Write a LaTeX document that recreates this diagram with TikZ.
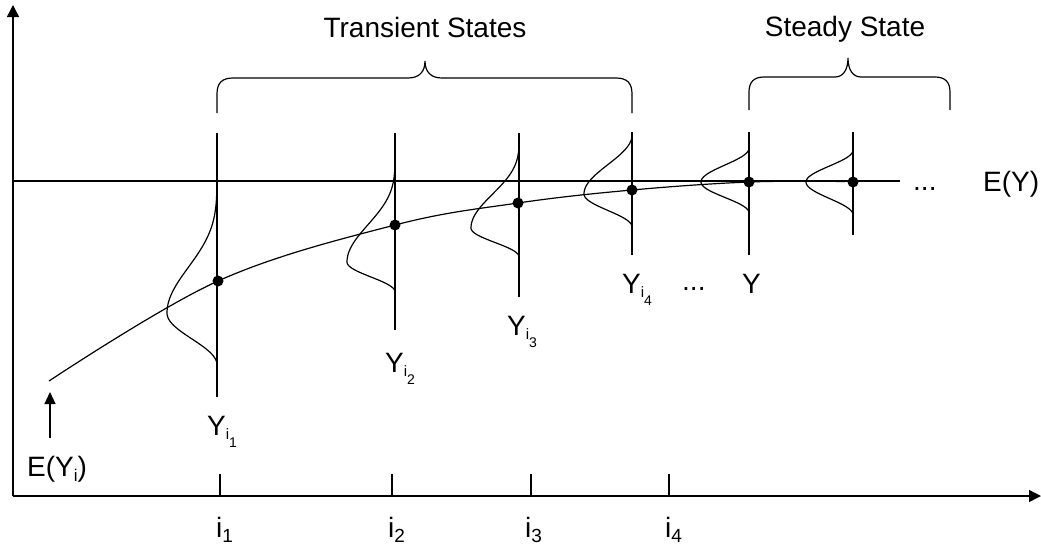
\documentclass[tikz,border=0pt]{standalone}
\usepackage{fontspec}
\setmainfont{Liberation Sans}
\usetikzlibrary{arrows.meta}
% bell: #1 x of line, #2 top, #3 y of widest point, #4 bottom, #5 width, #6 exponent of upper tail
\newcommand{\bellcurve}[6]{%
  \draw[curve] plot[domain=-0.999:0, samples=70, variable=\t]
     ({#1-#5*(max((1+cos(180*\t))/2,0.00001))^#6}, {#3+\t*(#3-#2)})
   -- plot[domain=0:0.999, samples=40, variable=\t]
     ({#1-#5*((1+cos(180*\t))/2)}, {#3+\t*(#4-#3)});}
\newcommand{\ysub}[1]{Y\raisebox{-4pt}{\fontsize{15}{15}\selectfont i\raisebox{-8pt}{\fontsize{14}{14}\selectfont #1}}}
\newcommand{\isub}[1]{i\raisebox{-5pt}{\fontsize{19}{19}\selectfont #1}}
\begin{document}
\begin{tikzpicture}[x=1pt,y=-1pt,
  axis/.style={line width=1.4pt,-{Triangle[width=12pt,length=12pt]}},
  curve/.style={line width=1.2pt},
  lbl/.style={font=\fontsize{28}{30}\selectfont, inner sep=0pt, anchor=base west},
  ttl/.style={font=\fontsize{28}{30}\selectfont, inner sep=0pt, anchor=base},
  dot/.style={circle, fill=black, inner sep=0pt, minimum size=11pt}]
\useasboundingbox (0,0) rectangle (1041,544);
% axes
\coordinate (O) at (13,496);
\coordinate (ytop) at (13,5);
\coordinate (xend) at (1041,496);
\draw[axis] (O) -- (ytop);
\draw[axis] (O) -- (xend);
% ticks
\foreach \n/\x in {1/220,2/392,3/531,4/669}{
  \coordinate (t\n) at (\x,496);
  \coordinate (tt\n) at (\x,474);
  \draw[curve] (t\n) -- (tt\n);
}
% E(Y) line
\coordinate (ea) at (13,181);
\coordinate (eb) at (900,181);
\draw[curve] (ea) -- (eb);
% vertical lines
\foreach \n/\x/\a/\b in {1/217/133/397,2/395/133/330,3/519/133/297,4/632/132/255,5/749/132/255,6/853/132/235}{
  \coordinate (va\n) at (\x,\a);
  \coordinate (vb\n) at (\x,\b);
  \draw[curve] (va\n) -- (vb\n);
}
% bells
\bellcurve{217}{158}{313}{365}{50}{2.5}
\bellcurve{395}{150}{262}{292}{48}{2}
\bellcurve{519}{138}{228}{257}{48}{1.6}
\bellcurve{632}{135}{194}{227}{48}{1}
\bellcurve{749}{148}{182}{213}{48}{1}
\bellcurve{853}{150}{182}{215}{47}{1}
% mean curve
\draw[curve] plot[smooth, tension=0.6] coordinates {(49,381) (218,281) (395,225) (518,203) (632,190) (749,182) (845,181.5)};
% dots
\node[dot] (d1) at (218,281) {};
\node[dot] (d2) at (395,225) {};
\node[dot] (d3) at (518,203) {};
\node[dot] (d4) at (632,190) {};
\node[dot] (d5) at (749,182) {};
\node[dot] (d6) at (853,182) {};
% brackets
\draw[curve] (217,113) -- (217,94) .. controls (217,83) and (222,78) .. (233,78) -- (408,78)
  .. controls (419,78) and (425,72) .. (425,61) .. controls (425,72) and (431,78) .. (442,78)
  -- (616,78) .. controls (627,78) and (632,83) .. (632,94) -- (632,113);
\draw[curve] (749,110) -- (749,92) .. controls (749,82) and (754,77) .. (764,77) -- (835,77)
  .. controls (843,77) and (848,70) .. (848,58) .. controls (848,70) and (853,77) .. (861,77)
  -- (935,77) .. controls (945,77) and (950,82) .. (950,92) -- (950,110);
\node[ttl] (tr) at (425,37) {Transient States};
\node[ttl] (st) at (845,36) {Steady State};
% labels
\node[lbl] (y1) at (207,435) {\ysub{1}};
\node[lbl] (y2) at (385,372) {\ysub{2}};
\node[lbl] (y3) at (507,335) {\ysub{3}};
\node[lbl] (y4) at (622,293) {\ysub{4}};
\node[lbl] (ydots) at (682,290) {...};
\node[lbl] (y) at (742,293) {Y};
\node[lbl] (rdots) at (913,190) {...};
\node[lbl] (ey) at (983,191) {E(Y)};
\node[lbl] (eyi) at (27,476) {E(Y\raisebox{-5pt}{\fontsize{17}{17}\selectfont i})};
\coordinate (ara) at (50,438);
\coordinate (arb) at (50,392);
\draw[curve,-{Triangle[width=11pt,length=12pt]}] (ara) -- (arb);
\foreach \n/\x in {1/216,2/388,3/525,4/665}{
  \node[lbl] (i\n) at (\x,537) {\isub{\n}};
}
\end{tikzpicture}
\end{document}
